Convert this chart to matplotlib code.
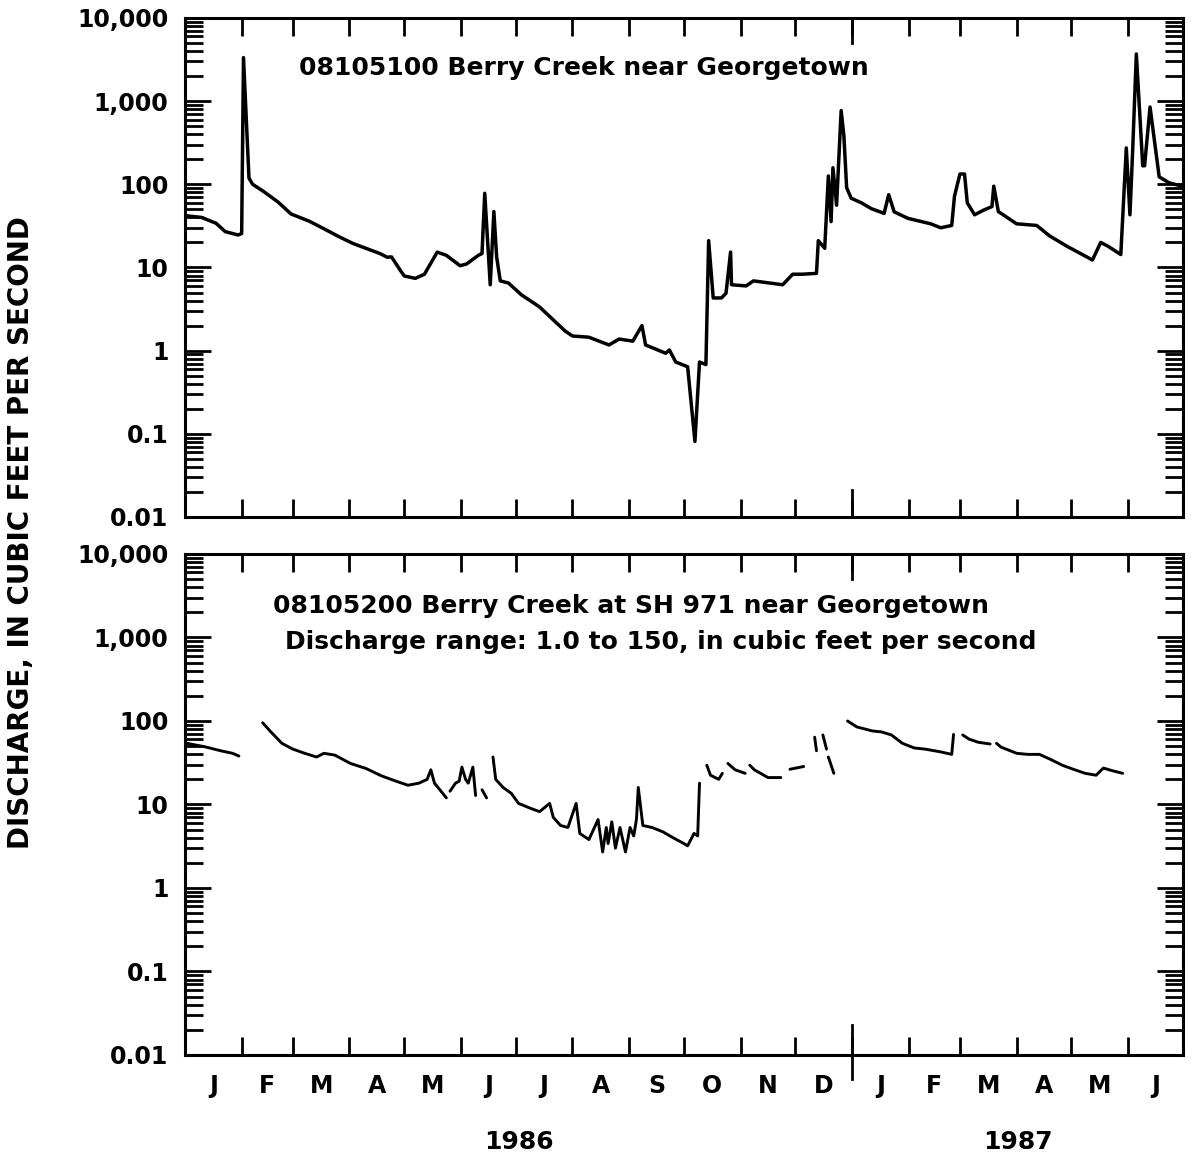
import numpy as np
import matplotlib
matplotlib.use("Agg")
import matplotlib.pyplot as plt
import matplotlib.transforms as mtransforms
from matplotlib.ticker import FixedLocator, FixedFormatter, LogLocator, NullFormatter

nan = np.nan

# ---- axis data (days counted from 1 Jan 1986) ----
month_starts = [0, 31, 59, 90, 120, 151, 181, 212, 243, 273, 304, 334,
                365, 396, 424, 455, 485, 516, 546]
month_labels = ["J", "F", "M", "A", "M", "J", "J", "A", "S", "O", "N", "D",
                "J", "F", "M", "A", "M", "J"]
year_labels = ["1986", "1987"]
year_boundary = 365
ytick_vals = [0.01, 0.1, 1, 10, 100, 1000, 10000]
ytick_labels = ["0.01", "0.1", "1", "10", "100", "1,000", "10,000"]

title_top = "08105100 Berry Creek near Georgetown"
title_bot_1 = "08105200 Berry Creek at SH 971 near Georgetown"
title_bot_2 = "Discharge range: 1.0 to 150, in cubic feet per second"
ylabel = "DISCHARGE, IN CUBIC FEET PER SECOND"

# ---- station 08105100 ----
top_days = [0, 9, 17, 22, 29, 31, 32, 35, 37, 43, 51, 58, 68, 75, 84, 92, 99, 107,
            110.5, 113, 118, 120, 126, 131, 138, 143, 150.5, 154, 160.5, 162.5, 164,
            167, 169, 170.5, 172.5, 177, 184, 194, 201, 208, 212, 221, 232, 237.5,
            245, 250, 252, 263, 265, 268.5, 275, 279, 281.5, 285, 286.5, 289, 293.5,
            296, 298.5, 299, 307, 311, 327, 332.5, 338, 345.5, 346.5, 350, 352,
            353.5, 354.5, 356.5, 359, 360.5, 362, 364.5, 370, 375.5, 382.5, 385, 388,
            395.5, 408, 413.5, 419.5, 421, 424, 426.5, 428, 432, 437, 441.5, 442.5,
            445, 455, 466, 473, 482.5, 491, 496.5, 501, 505, 512, 515, 517, 518.5,
            520.5, 524, 525, 528, 533, 538.5, 545.5]
top_q = [42, 40, 34, 27, 24.6, 25.6, 3340, 119, 100, 82, 61, 44, 36, 30, 23.6, 19.4,
         17, 14.6, 13.3, 13.4, 9.1, 7.9, 7.4, 8.3, 15.3, 14, 10.5, 11, 14, 14.7, 78,
         6.2, 47, 13.4, 6.9, 6.5, 4.7, 3.35, 2.4, 1.72, 1.5, 1.45, 1.17, 1.38, 1.3,
         2.0, 1.17, 0.93, 1.02, 0.73, 0.64, 0.081, 0.73, 0.68, 21, 4.3, 4.3, 4.9,
         15.3, 6.2, 6.0, 6.9, 6.2, 8.3, 8.3, 8.5, 21, 17, 126, 35.6, 158, 56, 770,
         382, 91, 68, 60, 51, 44.7, 75, 46.7, 39, 33.5, 30, 32, 72, 133, 133, 60, 43,
         49, 54, 95, 47, 33.5, 32, 24, 18, 14.3, 12.3, 20, 18, 14.3, 274, 43, 258,
         3690, 167, 167, 850, 123, 104, 95]

# ---- station 08105200 (gaps = missing record) ----
bot_days = [1, 11, 19.5, 26, 29.5, nan,
            42.5, 46.5, 53, 59, 65.5, 72, 76, 82, 90.5, 99, 107.5, 115.5, 122, 128,
            132.5, 134.5, 136.5, 143, nan,
            145, 148, 150, 151.5, 153.5, 155, 157.5, 159, nan,
            162.5, 165, nan,
            168.5, 170, 174, 178.5, 182.5, 189, 194, 199.5, 201.5, 205.5, 209.5, 214,
            216, 221, 226, 228.5, 230.5, 231.5, 233.5, 235.5, 238, 241, 243.5, 245.5,
            247, 248, 250.5, 255.5, 261.5, 267, 273, 275, 278.5, 280.5, 281.5, nan,
            285.5, 287.5, 292, 294, nan,
            297, 301, 306.5, nan,
            309, 311.5, 319, 326, nan,
            331, 338.5, nan,
            344.5, 345.5, nan,
            349, 351, nan,
            352, 355, nan,
            362.5, 367.5, 376, 381, 386.5, 392.5, 399, 405, 413.5, 419.5, 420.5, nan,
            425.5, 429, 434, 440.5, nan,
            444, 446.5, 455, 461, 467.5, 473.5, 480, 486, 492.5, 498.5, 502.5, 507, 513]
bot_q = [54, 49, 44, 41, 38, nan,
         95, 76, 54, 46, 41, 37, 41, 39, 31, 27, 22, 19, 17, 18, 20, 26, 18, 12, nan,
         14.4, 18, 19, 28, 20, 18, 28, 12.8, nan,
         15, 12, nan,
         37, 20, 16, 13.6, 10.3, 9, 8.2, 10.3, 7, 5.6, 5.3, 10.3, 4.5, 3.8, 6.6, 2.7,
         5.3, 3.4, 6.2, 3.0, 5.3, 2.7, 5.3, 4.2, 6.6, 16, 5.6, 5.3, 4.7, 4.0, 3.4, 3.2,
         4.5, 4.2, 18, nan,
         29.5, 22.4, 20, 23.6, nan,
         31, 26, 23.6, nan,
         29.5, 26, 21, 21, nan,
         26.4, 28.5, nan,
         64, 44, nan,
         68, 46, nan,
         37, 23.6, nan,
         100, 85, 76, 74, 68, 54, 47.5, 46, 42.6, 39.8, 69, nan,
         68, 60.6, 55.6, 53, nan,
         54, 48.6, 41, 39.8, 39.8, 34.7, 29.5, 26.4, 23.6, 22.4, 27.3, 25.5, 23.6]

plt.rcParams["font.family"] = ["DejaVu Sans"]
plt.rcParams["font.weight"] = "bold"

fig = plt.figure(figsize=(11.92, 11.67), dpi=100)
ax1 = fig.add_axes([0.1552, 0.5570, 0.8372, 0.4276])
ax2 = fig.add_axes([0.1552, 0.0960, 0.8372, 0.4293])

mids = [(a + b) / 2 for a, b in zip(month_starts[:-1], month_starts[1:])]

for ax in (ax1, ax2):
    ax.set_yscale("log")
    ax.set_ylim(0.01, 10000)
    ax.set_xlim(month_starts[0], month_starts[-1])
    ax.yaxis.set_major_locator(FixedLocator(ytick_vals))
    ax.yaxis.set_major_formatter(FixedFormatter(ytick_labels))
    ax.yaxis.set_minor_locator(LogLocator(base=10, subs=range(2, 10), numticks=20))
    ax.yaxis.set_minor_formatter(NullFormatter())
    ax.tick_params(axis="y", which="major", direction="in", length=19, width=2,
                   left=True, right=True, labelsize=17, pad=12)
    ax.tick_params(axis="y", which="minor", direction="in", length=13, width=2,
                   left=True, right=True)
    ax.xaxis.set_major_locator(FixedLocator(month_starts[1:-1]))
    ax.xaxis.set_major_formatter(NullFormatter())
    ax.xaxis.set_minor_locator(FixedLocator(mids))
    ax.tick_params(axis="x", which="major", direction="in", length=13, width=2,
                   top=True, bottom=True)
    ax.tick_params(axis="x", which="minor", length=0, top=False, bottom=True)
    for sp in ax.spines.values():
        sp.set_linewidth(2.2)
    trans = mtransforms.blended_transform_factory(ax.transData, ax.transAxes)
    ax.plot([year_boundary, year_boundary], [0.95, 1.0], transform=trans,
            color="black", lw=2, clip_on=False)

ax1.xaxis.set_minor_formatter(NullFormatter())
ax2.xaxis.set_minor_formatter(FixedFormatter(month_labels))
ax2.tick_params(axis="x", which="minor", labelsize=17, pad=14)

trans1 = mtransforms.blended_transform_factory(ax1.transData, ax1.transAxes)
ax1.plot([year_boundary, year_boundary], [0.0, 0.055], transform=trans1,
         color="black", lw=2, clip_on=False)
trans2 = mtransforms.blended_transform_factory(ax2.transData, ax2.transAxes)
ax2.plot([year_boundary, year_boundary], [-0.047, 0.06], transform=trans2,
         color="black", lw=2, clip_on=False)

ax1.plot(top_days, top_q, color="black", lw=2.5, solid_joinstyle="round")
ax2.plot(bot_days, bot_q, color="black", lw=2.1, solid_joinstyle="round",
         solid_capstyle="round")

ax1.text(0.40, 0.90, title_top, transform=ax1.transAxes, ha="center", va="center",
         fontsize=18)
ax2.text(0.447, 0.896, title_bot_1, transform=ax2.transAxes, ha="center",
         va="center", fontsize=18)
ax2.text(0.477, 0.824, title_bot_2, transform=ax2.transAxes, ha="center",
         va="center", fontsize=18)

year_centers = [(month_starts[0] + year_boundary) / 2,
                (year_boundary + month_starts[-1]) / 2]
for xc, lab in zip(year_centers, year_labels):
    ax2.text(xc, -0.174, lab, transform=trans2, ha="center", va="center",
             fontsize=18)

fig.text(0.0176, 0.5437, ylabel, rotation=90, ha="center", va="center",
         fontsize=20)

fig.savefig("out.png", dpi=100, facecolor="white")
